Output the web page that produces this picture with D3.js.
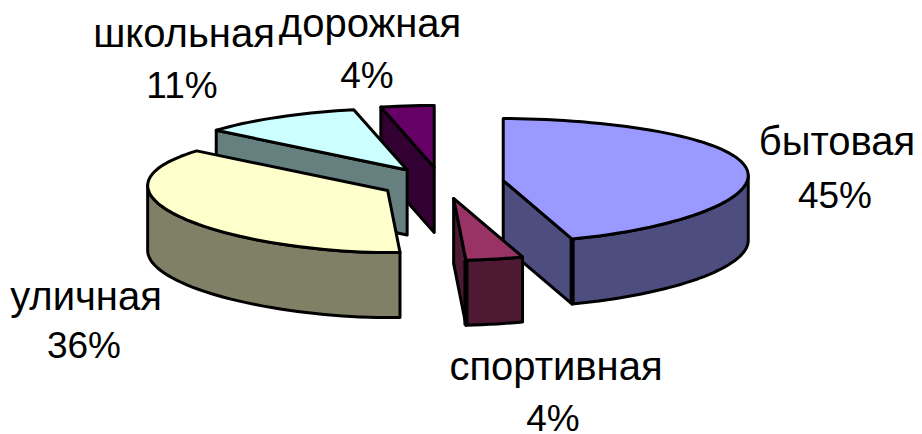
<!DOCTYPE html>
<html lang="en">
<head>
  <meta charset="UTF-8">
  <title>Chart</title>
  <style>
    html, body { margin: 0; background: #fff; }
    svg { display: block; }
    text { font-family: "Liberation Sans", Arial, sans-serif; font-size: 40px; fill: #000; }
    .pct { font-size: 37px; }
  </style>
</head>
<body>
  <svg></svg>
  <script src="https://cdn.jsdelivr.net/npm/d3@7"></script>
  <script>
    const categories = ['бытовая', 'спортивная', 'уличная', 'школьная', 'дорожная'];
    const values = [45, 4, 36, 11, 4];
    const topColors = ['#9999ff', '#993366', '#ffffcc', '#ccffff', '#660066'];
    const sideColors = ['#4d4d80', '#4d1933', '#808066', '#668080', '#330033'];
    // back to front
    const drawOrder = [4, 3, 2, 0, 1];

    const width = 922, height = 434;
    const cx = 442, cy = 183;
    const radiusRight = 245, radiusLeft = 240, ry = 62, depth = 65, explode = 62;

    // name x, name baseline, percent x, percent baseline
    const labelPos = [[837, 155, 835, 208], [556, 380, 553, 431], [86, 310, 84, 358], [184, 47, 182, 98], [370, 37, 367, 88]];

    const svg = d3.select('svg').attr('width', width).attr('height', height);

    const slices = d3.pie().sort(null).value(d => d)(values);
    const line = d3.line();

    // rim of the tilted pie, a bit pointed and lifted at the sides like the original
    function rimPoint(a) {
      const s = Math.sin(a);
      const rx = s < 0 ? -radiusLeft : radiusRight;
      return [rx * Math.pow(Math.abs(s), 1.08), -ry * Math.cos(a) - 5 * s * s];
    }
    const shift = (p, dy) => [p[0], p[1] + dy];

    function arcPoints(a0, a1) {
      const n = Math.max(2, Math.ceil((a1 - a0) / 0.04));
      return d3.range(n + 1).map(i => rimPoint(a0 + (a1 - a0) * i / n));
    }

    function drawSlice(i) {
      const s = slices[i];
      const mid = (s.startAngle + s.endAngle) / 2;
      const g = svg.append('g')
        .attr('transform', `translate(${cx + explode * Math.sin(mid)},${cy - explode * Math.cos(mid) * ry / radiusRight})`)
        .attr('stroke', '#000').attr('stroke-width', 3).attr('stroke-linejoin', 'round');

      // cut faces, only the ones turned to the viewer
      [[s.startAngle, s.startAngle - Math.PI / 2], [s.endAngle, s.endAngle + Math.PI / 2]].forEach(([a, normal]) => {
        if (Math.cos(normal) >= 0) return;
        const p = rimPoint(a);
        g.append('path')
          .attr('d', line([[0, 0], p, shift(p, depth), [0, depth]]) + 'Z')
          .attr('fill', sideColors[i]);
      });

      // rim, the front half only
      const a0 = Math.max(s.startAngle, Math.PI / 2), a1 = Math.min(s.endAngle, 3 * Math.PI / 2);
      if (a1 > a0) {
        const rim = arcPoints(a0, a1);
        g.append('path')
          .attr('d', line(rim.concat(rim.map(p => shift(p, depth)).reverse())) + 'Z')
          .attr('fill', sideColors[i]);
        // heavy seam where the rim meets a visible cut face
        if (Math.cos(s.endAngle + Math.PI / 2) < 0 && a1 === s.endAngle) {
          const p = rimPoint(a1);
          g.append('path').attr('d', line([p, shift(p, depth)])).attr('stroke-width', 5);
        }
      }

      g.append('path')
        .attr('d', line([[0, 0], ...arcPoints(s.startAngle, s.endAngle)]) + 'Z')
        .attr('fill', topColors[i]);
    }

    drawOrder.forEach(drawSlice);

    categories.forEach((c, i) => {
      const t = svg.append('text').attr('text-anchor', 'middle');
      t.append('tspan').attr('x', labelPos[i][0]).attr('y', labelPos[i][1]).text(c);
      t.append('tspan').attr('class', 'pct').attr('x', labelPos[i][2]).attr('y', labelPos[i][3]).text(values[i] + '%');
    });
  </script>
</body>
</html>
